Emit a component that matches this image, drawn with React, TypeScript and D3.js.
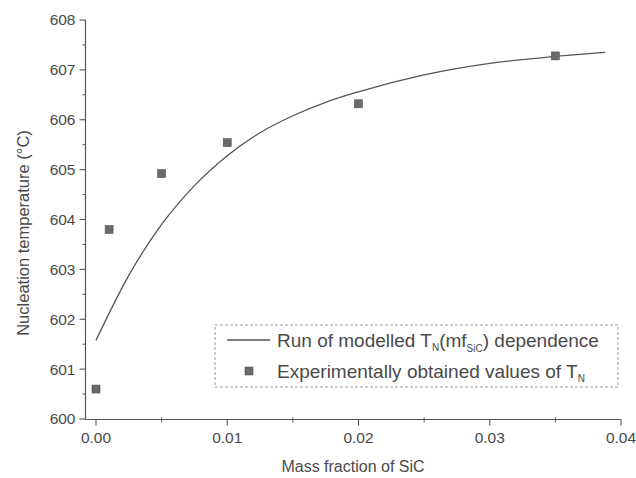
import React from "react";
import * as d3 from "d3";

const pointX = [0, 0.001, 0.005, 0.01, 0.02, 0.035];
const pointY = [600.6, 603.8, 604.92, 605.54, 606.32, 607.28];

const curveX = [0, 0.0025, 0.005, 0.0075, 0.01, 0.0125, 0.015, 0.0175, 0.02, 0.025, 0.03, 0.035, 0.0388];
const curveY = [601.58, 602.88, 603.9, 604.68, 605.28, 605.74, 606.08, 606.35, 606.56, 606.9, 607.13, 607.27, 607.35];

const xTicks = [0, 0.01, 0.02, 0.03, 0.04];
const xTickLabels = ["0.00", "0.01", "0.02", "0.03", "0.04"];
const xMinor = [0.005, 0.015, 0.025, 0.035];
const yTicks = [600, 601, 602, 603, 604, 605, 606, 607, 608];
const yMinor = [600.5, 601.5, 602.5, 603.5, 604.5, 605.5, 606.5, 607.5];

const W = 636;
const H = 478;
const FONT = "'Liberation Sans', Arial, sans-serif";
const TXT = "#4a4a4a";
const AX = "#555";

export default function App() {
  const x = d3.scaleLinear().domain([0, 0.04]).range([96, 621]);
  const y = d3.scaleLinear().domain([600, 608]).range([419, 20]);
  const axisLeft = 85.5;
  const axisBottom = 419.5;

  const line = d3
    .line<number>()
    .x((_, i) => x(curveX[i]))
    .y((d) => y(d))
    .curve(d3.curveMonotoneX);

  const legX = 215;
  const legY = 325;

  return (
    <svg
      width={W}
      height={H}
      style={{ position: "absolute", left: 0, top: 0, background: "#fff" }}
      fontFamily={FONT}
    >
      {/* axes */}
      <line x1={axisLeft} x2={axisLeft} y1={y(608)} y2={axisBottom} stroke={AX} strokeWidth={1.2} />
      <line x1={axisLeft} x2={x(0.04)} y1={axisBottom} y2={axisBottom} stroke={AX} strokeWidth={1.2} />
      {yTicks.map((t) => (
        <g key={"yt" + t}>
          <line x1={axisLeft - 6} x2={axisLeft} y1={y(t)} y2={y(t)} stroke={AX} strokeWidth={1.1} />
          <text x={axisLeft - 10} y={y(t)} dy="0.35em" textAnchor="end" fontSize={15.5} fill={TXT}>
            {t}
          </text>
        </g>
      ))}
      {yMinor.map((t) => (
        <line key={"ym" + t} x1={axisLeft - 3} x2={axisLeft} y1={y(t)} y2={y(t)} stroke={AX} strokeWidth={1} />
      ))}
      {xTicks.map((t, i) => (
        <g key={"xt" + t}>
          <line x1={x(t)} x2={x(t)} y1={axisBottom} y2={axisBottom + 6} stroke={AX} strokeWidth={1.1} />
          <text x={x(t)} y={axisBottom + 23} textAnchor="middle" fontSize={15.5} fill={TXT}>
            {xTickLabels[i]}
          </text>
        </g>
      ))}
      {xMinor.map((t) => (
        <line key={"xm" + t} x1={x(t)} x2={x(t)} y1={axisBottom - 2} y2={axisBottom + 3} stroke={AX} strokeWidth={1} />
      ))}

      {/* axis titles */}
      <text x={353} y={472} textAnchor="middle" fontSize={16} fill={TXT}>
        Mass fraction of SiC
      </text>
      <text
        transform={`translate(29, 233) rotate(-90)`}
        textAnchor="middle"
        fontSize={16.5}
        fill={TXT}
      >
        Nucleation temperature (°C)
      </text>

      {/* curve */}
      <path d={line(curveY) || ""} fill="none" stroke="#555" strokeWidth={1.3} />

      {/* points */}
      {pointX.map((px, i) => (
        <rect
          key={"p" + i}
          x={x(px) - 4}
          y={y(pointY[i]) - 4}
          width={8}
          height={8}
          fill="#6a6a6a"
          stroke="#555"
          strokeWidth={0.6}
        />
      ))}

      {/* legend */}
      <rect
        x={legX}
        y={legY}
        width={403}
        height={62}
        fill="#fff"
        stroke="#999"
        strokeWidth={1}
        strokeDasharray="3,2"
      />
      <line x1={227} x2={270} y1={340} y2={340} stroke="#555" strokeWidth={1.3} />
      <text x={277} y={347} fontSize={19} fill={TXT}>
        Run of modelled T
        <tspan fontSize={10} dy={4}>N</tspan>
        <tspan dy={-4}>(mf</tspan>
        <tspan fontSize={10} dy={5}>SiC</tspan>
        <tspan dy={-5}>) dependence</tspan>
      </text>
      <rect x={245} y={367} width={8} height={8} fill="#6a6a6a" stroke="#555" strokeWidth={0.6} />
      <text x={277} y={378} fontSize={19} fill={TXT}>
        Experimentally obtained values of T
        <tspan fontSize={10} dy={4}>N</tspan>
      </text>
    </svg>
  );
}
